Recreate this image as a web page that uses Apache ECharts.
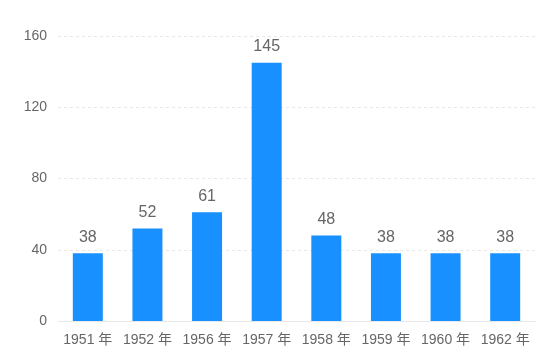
<!DOCTYPE html>
<html><head><meta charset="utf-8">
<script src="https://cdn.jsdelivr.net/npm/echarts@6/dist/echarts.min.js"></script>
<style>html,body{margin:0;padding:0;background:#fff}#c{width:544px;height:364px}</style>
</head><body><div id="c"></div>
<script>
const categories = ['1951 年','1952 年','1956 年','1957 年','1958 年','1959 年','1960 年','1962 年'];
const values = [38, 52, 61, 145, 48, 38, 38, 38];
const yTicks = {min: 0, max: 160, interval: 40};
const FONT = '"Liberation Sans", Arial, "Noto Sans CJK SC", sans-serif';
const chart = echarts.init(document.getElementById('c'), null, {renderer: 'canvas'});
chart.setOption({
  animation: false,
  grid: {left: 58, right: 9, top: 36, bottom: 43},
  xAxis: {
    type: 'category', data: categories,
    axisLine: {lineStyle: {color: '#e8e8e8'}},
    axisTick: {show: false},
    axisLabel: {color: '#666', fontSize: 14, margin: 12, interval: 0, hideOverlap: false, fontFamily: FONT}
  },
  yAxis: {
    type: 'value', min: yTicks.min, max: yTicks.max, interval: yTicks.interval,
    axisLine: {show: false}, axisTick: {show: false},
    axisLabel: {color: '#666', fontSize: 14, margin: 11, fontFamily: FONT},
    splitLine: {lineStyle: {color: '#e8e8e8', type: [3, 3]}}
  },
  series: [{
    type: 'bar', data: values, barWidth: 30,
    itemStyle: {color: '#1890ff'},
    label: {show: true, position: 'top', color: '#666', fontSize: 16, distance: 8, fontFamily: FONT}
  }]
});
</script></body></html>
